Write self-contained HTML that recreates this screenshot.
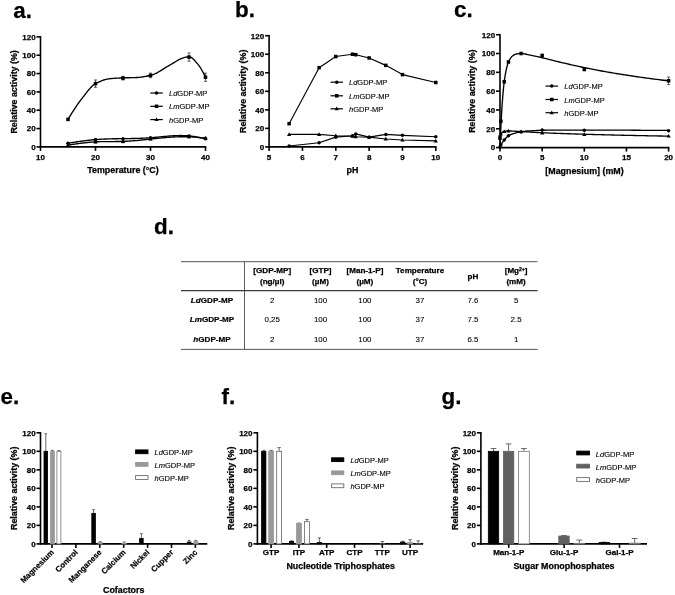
<!DOCTYPE html>
<html lang="en"><head><meta charset="utf-8"><title>GDP-MP characterization figure</title>
<style>html,body{margin:0;padding:0;background:#fff}svg{display:block;filter:blur(0.35px)}text{font-family:"Liberation Sans", Arial, Helvetica, sans-serif}</style>
</head><body>
<svg width="675" height="595" viewBox="0 0 675 595" font-family='"Liberation Sans", Arial, Helvetica, sans-serif' fill="#000">
<rect width="675" height="595" fill="#fff"/>
<text x="13.3" y="17.5" font-size="22.4" font-weight="bold" text-anchor="start"  stroke="#000" stroke-width="0.25">a.</text>
<text x="235" y="16.6" font-size="22.4" font-weight="bold" text-anchor="start"  stroke="#000" stroke-width="0.25">b.</text>
<text x="454" y="17" font-size="22.4" font-weight="bold" text-anchor="start"  stroke="#000" stroke-width="0.25">c.</text>
<text x="154" y="233.6" font-size="22.4" font-weight="bold" text-anchor="start"  stroke="#000" stroke-width="0.25">d.</text>
<text x="0.5" y="404.3" font-size="22.4" font-weight="bold" text-anchor="start"  stroke="#000" stroke-width="0.25">e.</text>
<text x="221.5" y="404.3" font-size="22.4" font-weight="bold" text-anchor="start"  stroke="#000" stroke-width="0.25">f.</text>
<text x="441.5" y="404.3" font-size="22.4" font-weight="bold" text-anchor="start"  stroke="#000" stroke-width="0.25">g.</text>
<line x1="40.5" y1="36.1" x2="40.5" y2="147.7" stroke="#000" stroke-width="1.6"/>
<line x1="36.5" y1="146.9" x2="40.5" y2="146.9" stroke="#000" stroke-width="1.6"/>
<text x="35.6" y="149.78" font-size="8.0" font-weight="bold" text-anchor="end"  stroke="#000" stroke-width="0.25">0</text>
<line x1="36.5" y1="128.57" x2="40.5" y2="128.57" stroke="#000" stroke-width="1.6"/>
<text x="35.6" y="131.45" font-size="8.0" font-weight="bold" text-anchor="end"  stroke="#000" stroke-width="0.25">20</text>
<line x1="36.5" y1="110.23" x2="40.5" y2="110.23" stroke="#000" stroke-width="1.6"/>
<text x="35.6" y="113.11" font-size="8.0" font-weight="bold" text-anchor="end"  stroke="#000" stroke-width="0.25">40</text>
<line x1="36.5" y1="91.9" x2="40.5" y2="91.9" stroke="#000" stroke-width="1.6"/>
<text x="35.6" y="94.78" font-size="8.0" font-weight="bold" text-anchor="end"  stroke="#000" stroke-width="0.25">60</text>
<line x1="36.5" y1="73.57" x2="40.5" y2="73.57" stroke="#000" stroke-width="1.6"/>
<text x="35.6" y="76.45" font-size="8.0" font-weight="bold" text-anchor="end"  stroke="#000" stroke-width="0.25">80</text>
<line x1="36.5" y1="55.23" x2="40.5" y2="55.23" stroke="#000" stroke-width="1.6"/>
<text x="35.6" y="58.11" font-size="8.0" font-weight="bold" text-anchor="end"  stroke="#000" stroke-width="0.25">100</text>
<line x1="36.5" y1="36.9" x2="40.5" y2="36.9" stroke="#000" stroke-width="1.6"/>
<text x="35.6" y="39.78" font-size="8.0" font-weight="bold" text-anchor="end"  stroke="#000" stroke-width="0.25">120</text>
<text transform="translate(16.5,91.9) rotate(-90)" font-size="8.9" font-weight="bold" text-anchor="middle" stroke="#000" stroke-width="0.25">Relative activity (%)</text>
<line x1="39.7" y1="146.9" x2="206.3" y2="146.9" stroke="#000" stroke-width="1.6"/>
<line x1="40.5" y1="146.9" x2="40.5" y2="150.9" stroke="#000" stroke-width="1.6"/>
<text x="40.5" y="159.6" font-size="8.0" font-weight="bold" text-anchor="middle"  stroke="#000" stroke-width="0.25">10</text>
<line x1="95.5" y1="146.9" x2="95.5" y2="150.9" stroke="#000" stroke-width="1.6"/>
<text x="95.5" y="159.6" font-size="8.0" font-weight="bold" text-anchor="middle"  stroke="#000" stroke-width="0.25">20</text>
<line x1="150.5" y1="146.9" x2="150.5" y2="150.9" stroke="#000" stroke-width="1.6"/>
<text x="150.5" y="159.6" font-size="8.0" font-weight="bold" text-anchor="middle"  stroke="#000" stroke-width="0.25">30</text>
<line x1="205.5" y1="146.9" x2="205.5" y2="150.9" stroke="#000" stroke-width="1.6"/>
<text x="205.5" y="159.6" font-size="8.0" font-weight="bold" text-anchor="middle"  stroke="#000" stroke-width="0.25">40</text>
<text x="123" y="173.2" font-size="8.9" font-weight="bold" text-anchor="middle"  stroke="#000" stroke-width="0.25">Temperature (°C)</text>
<path d="M68 119.4 L69.16 117.45 L70.31 115.54 L71.47 113.66 L72.62 111.82 L73.78 110.02 L74.93 108.26 L76.09 106.54 L77.24 104.87 L78.4 103.24 L79.55 101.65 L80.71 100.12 L81.87 98.63 L83.02 97.14 L84.18 95.63 L85.33 94.11 L86.49 92.61 L87.64 91.15 L88.8 89.74 L89.95 88.41 L91.11 87.17 L92.26 86.04 L93.42 85.05 L94.58 84.2 L95.73 83.53 L96.89 82.93 L98.04 82.35 L99.2 81.81 L100.35 81.3 L101.51 80.82 L102.66 80.39 L103.82 80 L104.97 79.65 L106.13 79.34 L107.29 79.09 L108.44 78.9 L109.6 78.75 L110.75 78.63 L111.91 78.52 L113.06 78.43 L114.22 78.34 L115.37 78.25 L116.53 78.18 L117.68 78.11 L118.84 78.05 L120 78 L121.15 77.95 L122.31 77.9 L123.46 77.86 L124.62 77.82 L125.77 77.79 L126.93 77.76 L128.08 77.74 L129.24 77.72 L130.39 77.69 L131.55 77.67 L132.71 77.64 L133.86 77.61 L135.02 77.58 L136.17 77.53 L137.33 77.48 L138.48 77.4 L139.64 77.3 L140.79 77.17 L141.95 77.02 L143.11 76.86 L144.26 76.67 L145.42 76.46 L146.57 76.24 L147.73 76.01 L148.88 75.76 L150.04 75.51 L151.19 75.22 L152.35 74.87 L153.5 74.44 L154.66 73.95 L155.82 73.41 L156.97 72.81 L158.13 72.17 L159.28 71.5 L160.44 70.8 L161.59 70.09 L162.75 69.36 L163.9 68.63 L165.06 67.9 L166.21 67.18 L167.37 66.48 L168.53 65.81 L169.68 65.17 L170.84 64.53 L171.99 63.86 L173.15 63.16 L174.3 62.44 L175.46 61.73 L176.61 61.03 L177.77 60.35 L178.92 59.71 L180.08 59.12 L181.24 58.6 L182.39 58.15 L183.55 57.79 L184.7 57.46 L185.86 57.16 L187.01 56.9 L188.17 56.74 L189.32 56.72 L190.48 57.04 L191.63 57.7 L192.79 58.64 L193.95 59.78 L195.1 61.05 L196.26 62.37 L197.41 63.66 L198.57 65.08 L199.72 66.7 L200.88 68.51 L202.03 70.49 L203.19 72.61 L204.34 74.87 L205.5 77.23" stroke="#000" stroke-width="1.35" fill="none" stroke-linejoin="round"/>
<rect x="66.25" y="117.65" width="3.5" height="3.5" fill="#000"/>
<path d="M95.5 79.98 L95.5 87.32 M93.9 79.98 L97.1 79.98 M93.9 87.32 L97.1 87.32" stroke="#000" stroke-width="0.6" fill="none"/>
<rect x="93.75" y="81.9" width="3.5" height="3.5" fill="#000"/>
<path d="M123 76.32 L123 79.98 M121.4 76.32 L124.6 76.32 M121.4 79.98 L124.6 79.98" stroke="#000" stroke-width="0.6" fill="none"/>
<rect x="121.25" y="76.4" width="3.5" height="3.5" fill="#000"/>
<path d="M150.5 73.11 L150.5 77.69 M148.9 73.11 L152.1 73.11 M148.9 77.69 L152.1 77.69" stroke="#000" stroke-width="0.6" fill="none"/>
<rect x="148.75" y="73.65" width="3.5" height="3.5" fill="#000"/>
<path d="M189 52.94 L189 61.19 M187.4 52.94 L190.6 52.94 M187.4 61.19 L190.6 61.19" stroke="#000" stroke-width="0.6" fill="none"/>
<rect x="187.25" y="55.32" width="3.5" height="3.5" fill="#000"/>
<path d="M205.5 73.11 L205.5 81.36 M203.9 73.11 L207.1 73.11 M203.9 81.36 L207.1 81.36" stroke="#000" stroke-width="0.6" fill="none"/>
<rect x="203.75" y="75.48" width="3.5" height="3.5" fill="#000"/>
<path d="M68 143.23 L69.16 143.05 L70.31 142.87 L71.47 142.68 L72.62 142.5 L73.78 142.32 L74.93 142.14 L76.09 141.97 L77.24 141.79 L78.4 141.62 L79.55 141.45 L80.71 141.29 L81.87 141.12 L83.02 140.96 L84.18 140.81 L85.33 140.66 L86.49 140.51 L87.64 140.37 L88.8 140.23 L89.95 140.1 L91.11 139.98 L92.26 139.86 L93.42 139.75 L94.58 139.65 L95.73 139.55 L96.89 139.46 L98.04 139.37 L99.2 139.3 L100.35 139.23 L101.51 139.16 L102.66 139.1 L103.82 139.05 L104.97 139 L106.13 138.96 L107.29 138.92 L108.44 138.88 L109.6 138.85 L110.75 138.82 L111.91 138.8 L113.06 138.78 L114.22 138.76 L115.37 138.74 L116.53 138.72 L117.68 138.71 L118.84 138.69 L120 138.68 L121.15 138.67 L122.31 138.66 L123.46 138.65 L124.62 138.63 L125.77 138.62 L126.93 138.61 L128.08 138.59 L129.24 138.57 L130.39 138.56 L131.55 138.53 L132.71 138.51 L133.86 138.49 L135.02 138.46 L136.17 138.43 L137.33 138.4 L138.48 138.36 L139.64 138.32 L140.79 138.28 L141.95 138.23 L143.11 138.18 L144.26 138.12 L145.42 138.06 L146.57 138 L147.73 137.93 L148.88 137.85 L150.04 137.77 L151.19 137.68 L152.35 137.59 L153.5 137.49 L154.66 137.39 L155.82 137.28 L156.97 137.17 L158.13 137.06 L159.28 136.95 L160.44 136.84 L161.59 136.73 L162.75 136.62 L163.9 136.51 L165.06 136.4 L166.21 136.3 L167.37 136.19 L168.53 136.1 L169.68 136.01 L170.84 135.92 L171.99 135.84 L173.15 135.77 L174.3 135.71 L175.46 135.65 L176.61 135.61 L177.77 135.57 L178.92 135.55 L180.08 135.54 L181.24 135.54 L182.39 135.55 L183.55 135.57 L184.7 135.61 L185.86 135.67 L187.01 135.74 L188.17 135.83 L189.32 135.93 L190.48 136.05 L191.63 136.19 L192.79 136.34 L193.95 136.51 L195.1 136.69 L196.26 136.88 L197.41 137.08 L198.57 137.29 L199.72 137.5 L200.88 137.72 L202.03 137.95 L203.19 138.18 L204.34 138.42 L205.5 138.65" stroke="#000" stroke-width="1.35" fill="none" stroke-linejoin="round"/>
<circle cx="68" cy="143.23" r="1.75" fill="#000"/>
<circle cx="95.5" cy="139.57" r="1.75" fill="#000"/>
<circle cx="123" cy="138.65" r="1.75" fill="#000"/>
<circle cx="150.5" cy="137.73" r="1.75" fill="#000"/>
<circle cx="189" cy="135.9" r="1.75" fill="#000"/>
<circle cx="205.5" cy="138.65" r="1.75" fill="#000"/>
<path d="M68 145.07 L69.16 144.9 L70.31 144.73 L71.47 144.56 L72.62 144.39 L73.78 144.22 L74.93 144.06 L76.09 143.89 L77.24 143.73 L78.4 143.58 L79.55 143.42 L80.71 143.27 L81.87 143.13 L83.02 142.99 L84.18 142.85 L85.33 142.72 L86.49 142.59 L87.64 142.48 L88.8 142.36 L89.95 142.26 L91.11 142.16 L92.26 142.07 L93.42 141.99 L94.58 141.91 L95.73 141.85 L96.89 141.79 L98.04 141.74 L99.2 141.7 L100.35 141.67 L101.51 141.64 L102.66 141.61 L103.82 141.6 L104.97 141.58 L106.13 141.57 L107.29 141.57 L108.44 141.56 L109.6 141.56 L110.75 141.56 L111.91 141.55 L113.06 141.55 L114.22 141.55 L115.37 141.54 L116.53 141.53 L117.68 141.52 L118.84 141.5 L120 141.48 L121.15 141.45 L122.31 141.42 L123.46 141.38 L124.62 141.34 L125.77 141.29 L126.93 141.23 L128.08 141.16 L129.24 141.09 L130.39 141.01 L131.55 140.93 L132.71 140.85 L133.86 140.76 L135.02 140.66 L136.17 140.56 L137.33 140.46 L138.48 140.35 L139.64 140.24 L140.79 140.13 L141.95 140.01 L143.11 139.9 L144.26 139.78 L145.42 139.65 L146.57 139.53 L147.73 139.41 L148.88 139.28 L150.04 139.16 L151.19 139.03 L152.35 138.91 L153.5 138.78 L154.66 138.66 L155.82 138.54 L156.97 138.41 L158.13 138.29 L159.28 138.17 L160.44 138.06 L161.59 137.95 L162.75 137.84 L163.9 137.73 L165.06 137.62 L166.21 137.52 L167.37 137.43 L168.53 137.34 L169.68 137.25 L170.84 137.17 L171.99 137.09 L173.15 137.02 L174.3 136.96 L175.46 136.9 L176.61 136.85 L177.77 136.81 L178.92 136.77 L180.08 136.74 L181.24 136.72 L182.39 136.71 L183.55 136.71 L184.7 136.71 L185.86 136.73 L187.01 136.75 L188.17 136.79 L189.32 136.83 L190.48 136.88 L191.63 136.95 L192.79 137.02 L193.95 137.1 L195.1 137.19 L196.26 137.28 L197.41 137.39 L198.57 137.49 L199.72 137.6 L200.88 137.71 L202.03 137.83 L203.19 137.95 L204.34 138.07 L205.5 138.19" stroke="#000" stroke-width="1.35" fill="none" stroke-linejoin="round"/>
<path d="M68 142.87 L70.1 146.57 L65.9 146.57 Z" fill="#000"/>
<path d="M95.5 140.48 L95.5 143.23 M93.9 140.48 L97.1 140.48 M93.9 143.23 L97.1 143.23" stroke="#000" stroke-width="0.6" fill="none"/>
<path d="M95.5 139.66 L97.6 143.36 L93.4 143.36 Z" fill="#000"/>
<path d="M123 140.03 L123 142.78 M121.4 140.03 L124.6 140.03 M121.4 142.78 L124.6 142.78" stroke="#000" stroke-width="0.6" fill="none"/>
<path d="M123 139.2 L125.1 142.9 L120.9 142.9 Z" fill="#000"/>
<path d="M150.5 138.19 L150.5 140.03 M148.9 138.19 L152.1 138.19 M148.9 140.03 L152.1 140.03" stroke="#000" stroke-width="0.6" fill="none"/>
<path d="M150.5 136.91 L152.6 140.61 L148.4 140.61 Z" fill="#000"/>
<path d="M189 135.9 L189 137.73 M187.4 135.9 L190.6 135.9 M187.4 137.73 L190.6 137.73" stroke="#000" stroke-width="0.6" fill="none"/>
<path d="M189 134.62 L191.1 138.32 L186.9 138.32 Z" fill="#000"/>
<path d="M205.5 137.28 L205.5 139.11 M203.9 137.28 L207.1 137.28 M203.9 139.11 L207.1 139.11" stroke="#000" stroke-width="0.6" fill="none"/>
<path d="M205.5 135.99 L207.6 139.69 L203.4 139.69 Z" fill="#000"/>
<line x1="150.3" y1="93" x2="162.8" y2="93" stroke="#000" stroke-width="1.2"/>
<circle cx="156.55" cy="93" r="1.75" fill="#000"/>
<text x="169" y="96.1" font-size="7.5" font-weight="normal" text-anchor="start" stroke="#000" stroke-width="0.12"><tspan font-style="italic">Ld</tspan>GDP-MP</text>
<line x1="150.3" y1="106.3" x2="162.8" y2="106.3" stroke="#000" stroke-width="1.2"/>
<rect x="154.8" y="104.55" width="3.5" height="3.5" fill="#000"/>
<text x="169" y="109.4" font-size="7.5" font-weight="normal" text-anchor="start" stroke="#000" stroke-width="0.12"><tspan font-style="italic">Lm</tspan>GDP-MP</text>
<line x1="150.3" y1="119.6" x2="162.8" y2="119.6" stroke="#000" stroke-width="1.2"/>
<path d="M156.55 117.4 L158.65 121.1 L154.45 121.1 Z" fill="#000"/>
<text x="169" y="122.7" font-size="7.5" font-weight="normal" text-anchor="start" stroke="#000" stroke-width="0.12"><tspan font-style="italic">h</tspan>GDP-MP</text>
<line x1="269.1" y1="34.9" x2="269.1" y2="147.7" stroke="#000" stroke-width="1.6"/>
<line x1="265.1" y1="146.9" x2="269.1" y2="146.9" stroke="#000" stroke-width="1.6"/>
<text x="264.2" y="149.78" font-size="8.0" font-weight="bold" text-anchor="end"  stroke="#000" stroke-width="0.25">0</text>
<line x1="265.1" y1="128.37" x2="269.1" y2="128.37" stroke="#000" stroke-width="1.6"/>
<text x="264.2" y="131.25" font-size="8.0" font-weight="bold" text-anchor="end"  stroke="#000" stroke-width="0.25">20</text>
<line x1="265.1" y1="109.83" x2="269.1" y2="109.83" stroke="#000" stroke-width="1.6"/>
<text x="264.2" y="112.71" font-size="8.0" font-weight="bold" text-anchor="end"  stroke="#000" stroke-width="0.25">40</text>
<line x1="265.1" y1="91.3" x2="269.1" y2="91.3" stroke="#000" stroke-width="1.6"/>
<text x="264.2" y="94.18" font-size="8.0" font-weight="bold" text-anchor="end"  stroke="#000" stroke-width="0.25">60</text>
<line x1="265.1" y1="72.77" x2="269.1" y2="72.77" stroke="#000" stroke-width="1.6"/>
<text x="264.2" y="75.65" font-size="8.0" font-weight="bold" text-anchor="end"  stroke="#000" stroke-width="0.25">80</text>
<line x1="265.1" y1="54.23" x2="269.1" y2="54.23" stroke="#000" stroke-width="1.6"/>
<text x="264.2" y="57.11" font-size="8.0" font-weight="bold" text-anchor="end"  stroke="#000" stroke-width="0.25">100</text>
<line x1="265.1" y1="35.7" x2="269.1" y2="35.7" stroke="#000" stroke-width="1.6"/>
<text x="264.2" y="38.58" font-size="8.0" font-weight="bold" text-anchor="end"  stroke="#000" stroke-width="0.25">120</text>
<text transform="translate(245.5,91.3) rotate(-90)" font-size="8.9" font-weight="bold" text-anchor="middle" stroke="#000" stroke-width="0.25">Relative activity (%)</text>
<line x1="268.3" y1="146.9" x2="436.6" y2="146.9" stroke="#000" stroke-width="1.6"/>
<line x1="269.1" y1="146.9" x2="269.1" y2="150.9" stroke="#000" stroke-width="1.6"/>
<text x="269.1" y="159.6" font-size="8.0" font-weight="bold" text-anchor="middle"  stroke="#000" stroke-width="0.25">5</text>
<line x1="302.44" y1="146.9" x2="302.44" y2="150.9" stroke="#000" stroke-width="1.6"/>
<text x="302.44" y="159.6" font-size="8.0" font-weight="bold" text-anchor="middle"  stroke="#000" stroke-width="0.25">6</text>
<line x1="335.78" y1="146.9" x2="335.78" y2="150.9" stroke="#000" stroke-width="1.6"/>
<text x="335.78" y="159.6" font-size="8.0" font-weight="bold" text-anchor="middle"  stroke="#000" stroke-width="0.25">7</text>
<line x1="369.12" y1="146.9" x2="369.12" y2="150.9" stroke="#000" stroke-width="1.6"/>
<text x="369.12" y="159.6" font-size="8.0" font-weight="bold" text-anchor="middle"  stroke="#000" stroke-width="0.25">8</text>
<line x1="402.46" y1="146.9" x2="402.46" y2="150.9" stroke="#000" stroke-width="1.6"/>
<text x="402.46" y="159.6" font-size="8.0" font-weight="bold" text-anchor="middle"  stroke="#000" stroke-width="0.25">9</text>
<line x1="435.8" y1="146.9" x2="435.8" y2="150.9" stroke="#000" stroke-width="1.6"/>
<text x="435.8" y="159.6" font-size="8.0" font-weight="bold" text-anchor="middle"  stroke="#000" stroke-width="0.25">10</text>
<text x="352.5" y="173.2" font-size="8.9" font-weight="bold" text-anchor="middle"  stroke="#000" stroke-width="0.25">pH</text>
<path d="M289.1 123.73 L319.11 67.67 L335.78 56.55 L352.45 54.23 L355.78 54.7 L369.12 57.94 L385.79 65.35 L402.46 74.62 L435.8 82.5" stroke="#000" stroke-width="1.15" fill="none" stroke-linejoin="round"/>
<rect x="287.35" y="121.98" width="3.5" height="3.5" fill="#000"/>
<rect x="317.36" y="65.92" width="3.5" height="3.5" fill="#000"/>
<rect x="334.03" y="54.8" width="3.5" height="3.5" fill="#000"/>
<rect x="350.7" y="52.48" width="3.5" height="3.5" fill="#000"/>
<rect x="354.03" y="52.95" width="3.5" height="3.5" fill="#000"/>
<rect x="367.37" y="56.19" width="3.5" height="3.5" fill="#000"/>
<rect x="384.04" y="63.6" width="3.5" height="3.5" fill="#000"/>
<rect x="400.71" y="72.87" width="3.5" height="3.5" fill="#000"/>
<rect x="434.05" y="80.75" width="3.5" height="3.5" fill="#000"/>
<path d="M289.1 145.97 L319.11 142.73 L335.78 137.17 L352.45 135.78 L355.78 133.93 L369.12 137.17 L385.79 134.39 L402.46 135.32 L435.8 136.71" stroke="#000" stroke-width="1.15" fill="none" stroke-linejoin="round"/>
<circle cx="289.1" cy="145.97" r="1.75" fill="#000"/>
<circle cx="319.11" cy="142.73" r="1.75" fill="#000"/>
<circle cx="335.78" cy="137.17" r="1.75" fill="#000"/>
<circle cx="352.45" cy="135.78" r="1.75" fill="#000"/>
<circle cx="355.78" cy="133.93" r="1.75" fill="#000"/>
<circle cx="369.12" cy="137.17" r="1.75" fill="#000"/>
<circle cx="385.79" cy="134.39" r="1.75" fill="#000"/>
<circle cx="402.46" cy="135.32" r="1.75" fill="#000"/>
<circle cx="435.8" cy="136.71" r="1.75" fill="#000"/>
<path d="M289.1 134.39 L319.11 134.39 L335.78 135.78 L352.45 136.24 L355.78 136.71 L369.12 137.17 L385.79 139.02 L402.46 139.95 L435.8 140.88" stroke="#000" stroke-width="1.15" fill="none" stroke-linejoin="round"/>
<path d="M289.1 132.19 L291.2 135.89 L287 135.89 Z" fill="#000"/>
<path d="M319.11 132.19 L321.21 135.89 L317.01 135.89 Z" fill="#000"/>
<path d="M335.78 133.58 L337.88 137.28 L333.68 137.28 Z" fill="#000"/>
<path d="M352.45 134.04 L354.55 137.74 L350.35 137.74 Z" fill="#000"/>
<path d="M355.78 134.51 L357.88 138.21 L353.68 138.21 Z" fill="#000"/>
<path d="M369.12 134.97 L371.22 138.67 L367.02 138.67 Z" fill="#000"/>
<path d="M385.79 136.82 L387.89 140.52 L383.69 140.52 Z" fill="#000"/>
<path d="M402.46 137.75 L404.56 141.45 L400.36 141.45 Z" fill="#000"/>
<path d="M435.8 138.68 L437.9 142.38 L433.7 142.38 Z" fill="#000"/>
<line x1="330.5" y1="82.2" x2="343" y2="82.2" stroke="#000" stroke-width="1.2"/>
<circle cx="336.75" cy="82.2" r="1.75" fill="#000"/>
<text x="349" y="85.3" font-size="7.5" font-weight="normal" text-anchor="start" stroke="#000" stroke-width="0.12"><tspan font-style="italic">Ld</tspan>GDP-MP</text>
<line x1="330.5" y1="95.8" x2="343" y2="95.8" stroke="#000" stroke-width="1.2"/>
<rect x="335" y="94.05" width="3.5" height="3.5" fill="#000"/>
<text x="349" y="98.9" font-size="7.5" font-weight="normal" text-anchor="start" stroke="#000" stroke-width="0.12"><tspan font-style="italic">Lm</tspan>GDP-MP</text>
<line x1="330.5" y1="108.8" x2="343" y2="108.8" stroke="#000" stroke-width="1.2"/>
<path d="M336.75 106.6 L338.85 110.3 L334.65 110.3 Z" fill="#000"/>
<text x="349" y="111.9" font-size="7.5" font-weight="normal" text-anchor="start" stroke="#000" stroke-width="0.12"><tspan font-style="italic">h</tspan>GDP-MP</text>
<line x1="500" y1="33.9" x2="500" y2="148.4" stroke="#000" stroke-width="1.6"/>
<line x1="496" y1="147.6" x2="500" y2="147.6" stroke="#000" stroke-width="1.6"/>
<text x="495.1" y="150.48" font-size="8.0" font-weight="bold" text-anchor="end"  stroke="#000" stroke-width="0.25">0</text>
<line x1="496" y1="128.78" x2="500" y2="128.78" stroke="#000" stroke-width="1.6"/>
<text x="495.1" y="131.66" font-size="8.0" font-weight="bold" text-anchor="end"  stroke="#000" stroke-width="0.25">20</text>
<line x1="496" y1="109.97" x2="500" y2="109.97" stroke="#000" stroke-width="1.6"/>
<text x="495.1" y="112.85" font-size="8.0" font-weight="bold" text-anchor="end"  stroke="#000" stroke-width="0.25">40</text>
<line x1="496" y1="91.15" x2="500" y2="91.15" stroke="#000" stroke-width="1.6"/>
<text x="495.1" y="94.03" font-size="8.0" font-weight="bold" text-anchor="end"  stroke="#000" stroke-width="0.25">60</text>
<line x1="496" y1="72.33" x2="500" y2="72.33" stroke="#000" stroke-width="1.6"/>
<text x="495.1" y="75.21" font-size="8.0" font-weight="bold" text-anchor="end"  stroke="#000" stroke-width="0.25">80</text>
<line x1="496" y1="53.52" x2="500" y2="53.52" stroke="#000" stroke-width="1.6"/>
<text x="495.1" y="56.4" font-size="8.0" font-weight="bold" text-anchor="end"  stroke="#000" stroke-width="0.25">100</text>
<line x1="496" y1="34.7" x2="500" y2="34.7" stroke="#000" stroke-width="1.6"/>
<text x="495.1" y="37.58" font-size="8.0" font-weight="bold" text-anchor="end"  stroke="#000" stroke-width="0.25">120</text>
<text transform="translate(475,91.15) rotate(-90)" font-size="8.9" font-weight="bold" text-anchor="middle" stroke="#000" stroke-width="0.25">Relative activity (%)</text>
<line x1="499.2" y1="147.6" x2="669.4" y2="147.6" stroke="#000" stroke-width="1.6"/>
<line x1="500" y1="147.6" x2="500" y2="151.6" stroke="#000" stroke-width="1.6"/>
<text x="500" y="160.3" font-size="8.0" font-weight="bold" text-anchor="middle"  stroke="#000" stroke-width="0.25">0</text>
<line x1="542.15" y1="147.6" x2="542.15" y2="151.6" stroke="#000" stroke-width="1.6"/>
<text x="542.15" y="160.3" font-size="8.0" font-weight="bold" text-anchor="middle"  stroke="#000" stroke-width="0.25">5</text>
<line x1="584.3" y1="147.6" x2="584.3" y2="151.6" stroke="#000" stroke-width="1.6"/>
<text x="584.3" y="160.3" font-size="8.0" font-weight="bold" text-anchor="middle"  stroke="#000" stroke-width="0.25">10</text>
<line x1="626.45" y1="147.6" x2="626.45" y2="151.6" stroke="#000" stroke-width="1.6"/>
<text x="626.45" y="160.3" font-size="8.0" font-weight="bold" text-anchor="middle"  stroke="#000" stroke-width="0.25">15</text>
<line x1="668.6" y1="147.6" x2="668.6" y2="151.6" stroke="#000" stroke-width="1.6"/>
<text x="668.6" y="160.3" font-size="8.0" font-weight="bold" text-anchor="middle"  stroke="#000" stroke-width="0.25">20</text>
<text x="584.5" y="174.2" font-size="8.9" font-weight="bold" text-anchor="middle"  stroke="#000" stroke-width="0.25">[Magnesium] (mM)</text>
<path d="M500 147.6 L500.43 136.86 L500.86 127.23 L501.29 118.79 L501.71 111.23 L502.14 104.77 L502.57 99.04 L503 93.73 L503.43 88.93 L503.86 84.73 L504.29 81.2 L504.72 78.18 L505.14 75.5 L505.57 73.12 L506 70.98 L506.43 69.04 L506.86 67.2 L507.29 65.49 L507.72 63.96 L508.14 62.68 L508.57 61.68 L509 60.8 L509.43 59.98 L509.86 59.23 L510.29 58.53 L510.72 57.9 L511.14 57.34 L511.57 56.84 L512 56.4 L512.43 56.03 L512.86 55.72 L513.29 55.43 L513.72 55.16 L514.15 54.91 L514.57 54.68 L515 54.47 L515.43 54.29 L515.86 54.13 L516.29 54.01 L516.72 53.92 L517.15 53.85 L517.57 53.79 L518 53.73 L518.43 53.68 L518.86 53.64 L519.29 53.6 L519.72 53.56 L520.15 53.54 L520.57 53.52 L521 53.52 L521.43 53.52 L521.86 53.54 L522.29 53.57 L522.72 53.61 L523.15 53.66 L523.58 53.72 L524 53.78 L524.43 53.86 L524.86 53.94 L525.29 54.02 L527.72 54.55 L530.15 55.05 L532.58 55.55 L535.01 56.08 L537.43 56.64 L539.86 57.21 L542.29 57.78 L544.72 58.36 L547.15 58.95 L549.58 59.56 L552.01 60.16 L554.44 60.78 L556.87 61.38 L559.3 61.98 L561.72 62.57 L564.15 63.14 L566.58 63.71 L569.01 64.27 L571.44 64.83 L573.87 65.39 L576.3 65.93 L578.73 66.46 L581.16 66.98 L583.59 67.48 L586.01 67.97 L588.44 68.45 L590.87 68.93 L593.3 69.4 L595.73 69.86 L598.16 70.32 L600.59 70.77 L603.02 71.22 L605.45 71.66 L607.88 72.09 L610.3 72.51 L612.73 72.93 L615.16 73.34 L617.59 73.75 L620.02 74.14 L622.45 74.53 L624.88 74.91 L627.31 75.29 L629.74 75.65 L632.17 76.02 L634.59 76.38 L637.02 76.73 L639.45 77.08 L641.88 77.42 L644.31 77.76 L646.74 78.09 L649.17 78.42 L651.6 78.74 L654.03 79.05 L656.46 79.36 L658.88 79.66 L661.31 79.96 L663.74 80.24 L666.17 80.53 L668.6 80.8" stroke="#000" stroke-width="1.35" fill="none" stroke-linejoin="round"/>
<rect x="498.25" y="135.5" width="3.5" height="3.5" fill="#000"/>
<rect x="499.09" y="119.51" width="3.5" height="3.5" fill="#000"/>
<rect x="502.46" y="79.99" width="3.5" height="3.5" fill="#000"/>
<rect x="506.68" y="60.23" width="3.5" height="3.5" fill="#000"/>
<rect x="519.33" y="51.77" width="3.5" height="3.5" fill="#000"/>
<rect x="540.4" y="53.65" width="3.5" height="3.5" fill="#000"/>
<rect x="582.55" y="67.76" width="3.5" height="3.5" fill="#000"/>
<path d="M668.6 77.04 L668.6 84.56 M667 77.04 L670.2 77.04 M667 84.56 L670.2 84.56" stroke="#000" stroke-width="0.6" fill="none"/>
<rect x="666.85" y="79.05" width="3.5" height="3.5" fill="#000"/>
<path d="M500 146.66 L500.43 145.82 L500.86 145.01 L501.29 144.24 L501.71 143.52 L502.14 142.84 L502.57 142.21 L503 141.61 L503.43 141.04 L503.86 140.5 L504.29 139.99 L504.72 139.49 L505.14 138.99 L505.57 138.49 L506 138.01 L506.43 137.55 L506.86 137.11 L507.29 136.71 L507.72 136.34 L508.14 136.02 L508.57 135.75 L509 135.51 L509.43 135.27 L509.86 135.05 L510.29 134.84 L510.72 134.64 L511.14 134.46 L511.57 134.28 L512 134.11 L512.43 133.95 L512.86 133.8 L513.29 133.66 L513.72 133.52 L514.15 133.39 L514.57 133.26 L515 133.13 L515.43 133.01 L515.86 132.9 L516.29 132.78 L516.72 132.67 L517.15 132.57 L517.57 132.47 L518 132.37 L518.43 132.28 L518.86 132.19 L519.29 132.1 L519.72 132.02 L520.15 131.94 L520.57 131.87 L521 131.8 L521.43 131.74 L521.86 131.68 L522.29 131.62 L522.72 131.56 L523.15 131.5 L523.58 131.44 L524 131.39 L524.43 131.33 L524.86 131.28 L525.29 131.23 L527.72 130.99 L530.15 130.81 L532.58 130.66 L535.01 130.53 L537.43 130.42 L539.86 130.34 L542.29 130.29 L544.72 130.25 L547.15 130.22 L549.58 130.19 L552.01 130.16 L554.44 130.14 L556.87 130.12 L559.3 130.11 L561.72 130.1 L564.15 130.1 L566.58 130.1 L569.01 130.1 L571.44 130.1 L573.87 130.1 L576.3 130.1 L578.73 130.1 L581.16 130.1 L583.59 130.1 L586.01 130.1 L588.44 130.1 L590.87 130.1 L593.3 130.11 L595.73 130.11 L598.16 130.11 L600.59 130.12 L603.02 130.12 L605.45 130.13 L607.88 130.13 L610.3 130.14 L612.73 130.15 L615.16 130.16 L617.59 130.17 L620.02 130.18 L622.45 130.19 L624.88 130.2 L627.31 130.21 L629.74 130.22 L632.17 130.23 L634.59 130.25 L637.02 130.26 L639.45 130.27 L641.88 130.29 L644.31 130.3 L646.74 130.32 L649.17 130.33 L651.6 130.35 L654.03 130.37 L656.46 130.38 L658.88 130.4 L661.31 130.42 L663.74 130.44 L666.17 130.46 L668.6 130.48" stroke="#000" stroke-width="1.3" fill="none" stroke-linejoin="round"/>
<circle cx="500" cy="146.66" r="1.75" fill="#000"/>
<circle cx="500.84" cy="144.78" r="1.75" fill="#000"/>
<circle cx="504.21" cy="140.07" r="1.75" fill="#000"/>
<circle cx="508.43" cy="135.84" r="1.75" fill="#000"/>
<circle cx="521.08" cy="132.08" r="1.75" fill="#000"/>
<circle cx="542.15" cy="130.01" r="1.75" fill="#000"/>
<circle cx="584.3" cy="130.19" r="1.75" fill="#000"/>
<circle cx="668.6" cy="130.66" r="1.75" fill="#000"/>
<path d="M500 138.19 L500.43 136.32 L500.86 134.82 L501.29 133.84 L501.71 133.04 L502.14 132.43 L502.57 132.05 L503 131.8 L503.43 131.59 L503.86 131.41 L504.29 131.28 L504.72 131.18 L505.14 131.13 L505.57 131.09 L506 131.05 L506.43 131.02 L506.86 130.99 L507.29 130.97 L507.72 130.96 L508.14 130.95 L508.57 130.95 L509 130.95 L509.43 130.96 L509.86 130.96 L510.29 130.97 L510.72 130.99 L511.14 131 L511.57 131.02 L512 131.04 L512.43 131.06 L512.86 131.08 L513.29 131.1 L513.72 131.13 L514.15 131.15 L514.57 131.18 L515 131.21 L515.43 131.24 L515.86 131.27 L516.29 131.3 L516.72 131.33 L517.15 131.36 L517.57 131.39 L518 131.42 L518.43 131.44 L518.86 131.47 L519.29 131.5 L519.72 131.53 L520.15 131.55 L520.57 131.58 L521 131.6 L521.43 131.62 L521.86 131.65 L522.29 131.67 L522.72 131.69 L523.15 131.72 L523.58 131.74 L524 131.76 L524.43 131.79 L524.86 131.81 L525.29 131.84 L527.72 131.97 L530.15 132.11 L532.58 132.25 L535.01 132.38 L537.43 132.51 L539.86 132.63 L542.29 132.74 L544.72 132.85 L547.15 132.95 L549.58 133.05 L552.01 133.15 L554.44 133.24 L556.87 133.34 L559.3 133.43 L561.72 133.52 L564.15 133.6 L566.58 133.69 L569.01 133.77 L571.44 133.85 L573.87 133.93 L576.3 134 L578.73 134.08 L581.16 134.15 L583.59 134.22 L586.01 134.29 L588.44 134.36 L590.87 134.42 L593.3 134.49 L595.73 134.56 L598.16 134.62 L600.59 134.69 L603.02 134.75 L605.45 134.82 L607.88 134.88 L610.3 134.94 L612.73 135 L615.16 135.07 L617.59 135.13 L620.02 135.19 L622.45 135.24 L624.88 135.3 L627.31 135.36 L629.74 135.41 L632.17 135.47 L634.59 135.52 L637.02 135.57 L639.45 135.62 L641.88 135.67 L644.31 135.72 L646.74 135.77 L649.17 135.81 L651.6 135.86 L654.03 135.9 L656.46 135.94 L658.88 135.98 L661.31 136.02 L663.74 136.05 L666.17 136.09 L668.6 136.12" stroke="#000" stroke-width="1.3" fill="none" stroke-linejoin="round"/>
<path d="M500 135.99 L502.1 139.69 L497.9 139.69 Z" fill="#000"/>
<path d="M500.84 131.76 L502.94 135.46 L498.74 135.46 Z" fill="#000"/>
<path d="M504.21 129.41 L506.31 133.11 L502.11 133.11 Z" fill="#000"/>
<path d="M508.43 128.75 L510.53 132.45 L506.33 132.45 Z" fill="#000"/>
<path d="M521.08 129.41 L523.18 133.11 L518.98 133.11 Z" fill="#000"/>
<path d="M542.15 130.82 L544.25 134.52 L540.05 134.52 Z" fill="#000"/>
<path d="M584.3 132.23 L586.4 135.93 L582.2 135.93 Z" fill="#000"/>
<path d="M668.6 133.92 L670.7 137.62 L666.5 137.62 Z" fill="#000"/>
<line x1="545.5" y1="86.1" x2="558" y2="86.1" stroke="#000" stroke-width="1.2"/>
<circle cx="551.75" cy="86.1" r="1.75" fill="#000"/>
<text x="564.3" y="89.2" font-size="7.5" font-weight="normal" text-anchor="start" stroke="#000" stroke-width="0.12"><tspan font-style="italic">Ld</tspan>GDP-MP</text>
<line x1="545.5" y1="99.5" x2="558" y2="99.5" stroke="#000" stroke-width="1.2"/>
<rect x="550" y="97.75" width="3.5" height="3.5" fill="#000"/>
<text x="564.3" y="102.6" font-size="7.5" font-weight="normal" text-anchor="start" stroke="#000" stroke-width="0.12"><tspan font-style="italic">Lm</tspan>GDP-MP</text>
<line x1="545.5" y1="112.7" x2="558" y2="112.7" stroke="#000" stroke-width="1.2"/>
<path d="M551.75 110.5 L553.85 114.2 L549.65 114.2 Z" fill="#000"/>
<text x="564.3" y="115.8" font-size="7.5" font-weight="normal" text-anchor="start" stroke="#000" stroke-width="0.12"><tspan font-style="italic">h</tspan>GDP-MP</text>
<line x1="181" y1="261.7" x2="537.6" y2="261.7" stroke="#555" stroke-width="1.0"/>
<line x1="181" y1="290.6" x2="537.6" y2="290.6" stroke="#3a3a3a" stroke-width="1.1"/>
<line x1="181" y1="349.4" x2="537.6" y2="349.4" stroke="#555" stroke-width="1.0"/>
<line x1="244.5" y1="261.7" x2="244.5" y2="349.4" stroke="#333" stroke-width="0.8"/>
<text x="272.2" y="273.3" font-size="8.1" font-weight="bold" text-anchor="middle"  stroke="#000" stroke-width="0.25">[GDP-MP]</text>
<text x="272.2" y="283.9" font-size="8.1" font-weight="bold" text-anchor="middle"  stroke="#000" stroke-width="0.25">(ng/µl)</text>
<text x="320.5" y="273.3" font-size="8.1" font-weight="bold" text-anchor="middle"  stroke="#000" stroke-width="0.25">[GTP]</text>
<text x="320.5" y="283.9" font-size="8.1" font-weight="bold" text-anchor="middle"  stroke="#000" stroke-width="0.25">(µM)</text>
<text x="364.9" y="273.3" font-size="8.1" font-weight="bold" text-anchor="middle"  stroke="#000" stroke-width="0.25">[Man-1-P]</text>
<text x="364.9" y="283.9" font-size="8.1" font-weight="bold" text-anchor="middle"  stroke="#000" stroke-width="0.25">(µM)</text>
<text x="420" y="273.3" font-size="8.1" font-weight="bold" text-anchor="middle"  stroke="#000" stroke-width="0.25">Temperature</text>
<text x="420" y="283.9" font-size="8.1" font-weight="bold" text-anchor="middle"  stroke="#000" stroke-width="0.25">(°C)</text>
<text x="472.9" y="279.4" font-size="8.1" font-weight="bold" text-anchor="middle"  stroke="#000" stroke-width="0.25">pH</text>
<text x="516.1" y="273.3" font-size="8.1" font-weight="bold" text-anchor="middle"  stroke="#000" stroke-width="0.25">[Mg<tspan font-size="5" dy="-2.6">2+</tspan><tspan dy="2.6">]</tspan></text>
<text x="516.1" y="283.9" font-size="8.1" font-weight="bold" text-anchor="middle"  stroke="#000" stroke-width="0.25">(mM)</text>
<text x="212" y="302.6" font-size="8.1" font-weight="bold" text-anchor="middle" stroke="#000" stroke-width="0.2"><tspan font-style="italic">Ld</tspan>GDP-MP</text>
<text x="272.2" y="302.8" font-size="7.9" font-weight="normal" text-anchor="middle" fill="#000" stroke="#000" stroke-width="0.1">2</text>
<text x="320.5" y="302.8" font-size="7.9" font-weight="normal" text-anchor="middle" fill="#000" stroke="#000" stroke-width="0.1">100</text>
<text x="364.9" y="302.8" font-size="7.9" font-weight="normal" text-anchor="middle" fill="#000" stroke="#000" stroke-width="0.1">100</text>
<text x="420" y="302.8" font-size="7.9" font-weight="normal" text-anchor="middle" fill="#000" stroke="#000" stroke-width="0.1">37</text>
<text x="472.9" y="302.8" font-size="7.9" font-weight="normal" text-anchor="middle" fill="#000" stroke="#000" stroke-width="0.1">7.6</text>
<text x="516.1" y="302.8" font-size="7.9" font-weight="normal" text-anchor="middle" fill="#000" stroke="#000" stroke-width="0.1">5</text>
<text x="212" y="322.1" font-size="8.1" font-weight="bold" text-anchor="middle" stroke="#000" stroke-width="0.2"><tspan font-style="italic">Lm</tspan>GDP-MP</text>
<text x="272.2" y="322.3" font-size="7.9" font-weight="normal" text-anchor="middle" fill="#000" stroke="#000" stroke-width="0.1">0,25</text>
<text x="320.5" y="322.3" font-size="7.9" font-weight="normal" text-anchor="middle" fill="#000" stroke="#000" stroke-width="0.1">100</text>
<text x="364.9" y="322.3" font-size="7.9" font-weight="normal" text-anchor="middle" fill="#000" stroke="#000" stroke-width="0.1">100</text>
<text x="420" y="322.3" font-size="7.9" font-weight="normal" text-anchor="middle" fill="#000" stroke="#000" stroke-width="0.1">37</text>
<text x="472.9" y="322.3" font-size="7.9" font-weight="normal" text-anchor="middle" fill="#000" stroke="#000" stroke-width="0.1">7.5</text>
<text x="516.1" y="322.3" font-size="7.9" font-weight="normal" text-anchor="middle" fill="#000" stroke="#000" stroke-width="0.1">2.5</text>
<text x="212" y="341.7" font-size="8.1" font-weight="bold" text-anchor="middle" stroke="#000" stroke-width="0.2"><tspan font-style="italic">h</tspan>GDP-MP</text>
<text x="272.2" y="341.9" font-size="7.9" font-weight="normal" text-anchor="middle" fill="#000" stroke="#000" stroke-width="0.1">2</text>
<text x="320.5" y="341.9" font-size="7.9" font-weight="normal" text-anchor="middle" fill="#000" stroke="#000" stroke-width="0.1">100</text>
<text x="364.9" y="341.9" font-size="7.9" font-weight="normal" text-anchor="middle" fill="#000" stroke="#000" stroke-width="0.1">100</text>
<text x="420" y="341.9" font-size="7.9" font-weight="normal" text-anchor="middle" fill="#000" stroke="#000" stroke-width="0.1">37</text>
<text x="472.9" y="341.9" font-size="7.9" font-weight="normal" text-anchor="middle" fill="#000" stroke="#000" stroke-width="0.1">6.5</text>
<text x="516.1" y="341.9" font-size="7.9" font-weight="normal" text-anchor="middle" fill="#000" stroke="#000" stroke-width="0.1">1</text>
<line x1="40.5" y1="432" x2="40.5" y2="544.7" stroke="#000" stroke-width="1.6"/>
<line x1="36.5" y1="543.9" x2="40.5" y2="543.9" stroke="#000" stroke-width="1.6"/>
<text x="35.6" y="546.78" font-size="8.0" font-weight="bold" text-anchor="end"  stroke="#000" stroke-width="0.25">0</text>
<line x1="36.5" y1="525.38" x2="40.5" y2="525.38" stroke="#000" stroke-width="1.6"/>
<text x="35.6" y="528.26" font-size="8.0" font-weight="bold" text-anchor="end"  stroke="#000" stroke-width="0.25">20</text>
<line x1="36.5" y1="506.87" x2="40.5" y2="506.87" stroke="#000" stroke-width="1.6"/>
<text x="35.6" y="509.75" font-size="8.0" font-weight="bold" text-anchor="end"  stroke="#000" stroke-width="0.25">40</text>
<line x1="36.5" y1="488.35" x2="40.5" y2="488.35" stroke="#000" stroke-width="1.6"/>
<text x="35.6" y="491.23" font-size="8.0" font-weight="bold" text-anchor="end"  stroke="#000" stroke-width="0.25">60</text>
<line x1="36.5" y1="469.83" x2="40.5" y2="469.83" stroke="#000" stroke-width="1.6"/>
<text x="35.6" y="472.71" font-size="8.0" font-weight="bold" text-anchor="end"  stroke="#000" stroke-width="0.25">80</text>
<line x1="36.5" y1="451.32" x2="40.5" y2="451.32" stroke="#000" stroke-width="1.6"/>
<text x="35.6" y="454.2" font-size="8.0" font-weight="bold" text-anchor="end"  stroke="#000" stroke-width="0.25">100</text>
<line x1="36.5" y1="432.8" x2="40.5" y2="432.8" stroke="#000" stroke-width="1.6"/>
<text x="35.6" y="435.68" font-size="8.0" font-weight="bold" text-anchor="end"  stroke="#000" stroke-width="0.25">120</text>
<text transform="translate(16.5,488.35) rotate(-90)" font-size="8.9" font-weight="bold" text-anchor="middle" stroke="#000" stroke-width="0.25">Relative activity (%)</text>
<line x1="39.7" y1="543.9" x2="207.3" y2="543.9" stroke="#000" stroke-width="1.6"/>
<line x1="52" y1="543.9" x2="52" y2="547.9" stroke="#000" stroke-width="1.6"/>
<path d="M45.8 451.32 L45.8 433.73 M44.48 433.73 L47.12 433.73" stroke="#444" stroke-width="0.8" fill="none"/>
<rect x="44" y="451.32" width="3.6" height="92.58" fill="#000" stroke="#000" stroke-width="0.8"/>
<path d="M52.45 451.32 L52.45 450.39 M51.04 450.39 L53.86 450.39" stroke="#444" stroke-width="0.8" fill="none"/>
<rect x="50.5" y="451.32" width="3.9" height="92.58" fill="#999" stroke="#999" stroke-width="0.8"/>
<path d="M58.9 451.32 L58.9 450.58 M57.46 450.58 L60.34 450.58" stroke="#444" stroke-width="0.8" fill="none"/>
<rect x="56.9" y="451.32" width="4" height="92.58" fill="#fff" stroke="#777" stroke-width="0.8"/>
<text transform="translate(54.4,552.9) rotate(-45)" font-size="7.9" font-weight="bold" text-anchor="end" stroke="#000" stroke-width="0.2">Magnesium</text>
<line x1="75.9" y1="543.9" x2="75.9" y2="547.9" stroke="#000" stroke-width="1.6"/>
<text transform="translate(78.3,552.9) rotate(-45)" font-size="7.9" font-weight="bold" text-anchor="end" stroke="#000" stroke-width="0.2">Control</text>
<line x1="99.8" y1="543.9" x2="99.8" y2="547.9" stroke="#000" stroke-width="1.6"/>
<path d="M93.6 513.35 L93.6 509.64 M92.28 509.64 L94.92 509.64" stroke="#444" stroke-width="0.8" fill="none"/>
<rect x="91.8" y="513.35" width="3.6" height="30.55" fill="#000" stroke="#000" stroke-width="0.8"/>
<path d="M100.25 542.51 L100.25 541.77 M98.84 541.77 L101.66 541.77" stroke="#444" stroke-width="0.8" fill="none"/>
<rect x="98.3" y="542.51" width="3.9" height="1.39" fill="#999" stroke="#999" stroke-width="0.8"/>
<text transform="translate(102.2,552.9) rotate(-45)" font-size="7.9" font-weight="bold" text-anchor="end" stroke="#000" stroke-width="0.2">Manganese</text>
<line x1="123.7" y1="543.9" x2="123.7" y2="547.9" stroke="#000" stroke-width="1.6"/>
<path d="M124.15 543.44 L124.15 542.05 M122.74 542.05 L125.56 542.05" stroke="#444" stroke-width="0.8" fill="none"/>
<rect x="122.2" y="543.44" width="3.9" height="0.46" fill="#999" stroke="#999" stroke-width="0.8"/>
<text transform="translate(126.1,552.9) rotate(-45)" font-size="7.9" font-weight="bold" text-anchor="end" stroke="#000" stroke-width="0.2">Calcium</text>
<line x1="147.6" y1="543.9" x2="147.6" y2="547.9" stroke="#000" stroke-width="1.6"/>
<path d="M141.4 538.35 L141.4 533.72 M140.08 533.72 L142.72 533.72" stroke="#444" stroke-width="0.8" fill="none"/>
<rect x="139.6" y="538.35" width="3.6" height="5.55" fill="#000" stroke="#000" stroke-width="0.8"/>
<text transform="translate(150,552.9) rotate(-45)" font-size="7.9" font-weight="bold" text-anchor="end" stroke="#000" stroke-width="0.2">Nickel</text>
<line x1="171.5" y1="543.9" x2="171.5" y2="547.9" stroke="#000" stroke-width="1.6"/>
<text transform="translate(173.9,552.9) rotate(-45)" font-size="7.9" font-weight="bold" text-anchor="end" stroke="#000" stroke-width="0.2">Cupper</text>
<line x1="195.4" y1="543.9" x2="195.4" y2="547.9" stroke="#000" stroke-width="1.6"/>
<path d="M189.2 542.05 L189.2 540.38 M187.88 540.38 L190.52 540.38" stroke="#444" stroke-width="0.8" fill="none"/>
<rect x="187.4" y="542.05" width="3.6" height="1.85" fill="#000" stroke="#000" stroke-width="0.8"/>
<path d="M195.85 541.12 L195.85 540.38 M194.44 540.38 L197.26 540.38" stroke="#444" stroke-width="0.8" fill="none"/>
<rect x="193.9" y="541.12" width="3.9" height="2.78" fill="#999" stroke="#999" stroke-width="0.8"/>
<text transform="translate(197.8,552.9) rotate(-45)" font-size="7.9" font-weight="bold" text-anchor="end" stroke="#000" stroke-width="0.2">Zinc</text>
<text x="123.7" y="592.6" font-size="8.9" font-weight="bold" text-anchor="middle"  stroke="#000" stroke-width="0.25">Cofactors</text>
<rect x="135.6" y="449.9" width="12.4" height="3.8" fill="#000" stroke="#000" stroke-width="0.9"/>
<text x="154.5" y="455.3" font-size="7.5" font-weight="normal" text-anchor="start" stroke="#000" stroke-width="0.12"><tspan font-style="italic">Ld</tspan>GDP-MP</text>
<rect x="135.6" y="462.5" width="12.4" height="3.8" fill="#999" stroke="#999" stroke-width="0.9"/>
<text x="154.5" y="467.9" font-size="7.5" font-weight="normal" text-anchor="start" stroke="#000" stroke-width="0.12"><tspan font-style="italic">Lm</tspan>GDP-MP</text>
<rect x="135.6" y="475.6" width="12.4" height="3.8" fill="#fff" stroke="#6a6a6a" stroke-width="0.9"/>
<text x="154.5" y="481" font-size="7.5" font-weight="normal" text-anchor="start" stroke="#000" stroke-width="0.12"><tspan font-style="italic">h</tspan>GDP-MP</text>
<line x1="257.4" y1="432" x2="257.4" y2="544.7" stroke="#000" stroke-width="1.6"/>
<line x1="253.4" y1="543.9" x2="257.4" y2="543.9" stroke="#000" stroke-width="1.6"/>
<text x="252.5" y="546.78" font-size="8.0" font-weight="bold" text-anchor="end"  stroke="#000" stroke-width="0.25">0</text>
<line x1="253.4" y1="525.38" x2="257.4" y2="525.38" stroke="#000" stroke-width="1.6"/>
<text x="252.5" y="528.26" font-size="8.0" font-weight="bold" text-anchor="end"  stroke="#000" stroke-width="0.25">20</text>
<line x1="253.4" y1="506.87" x2="257.4" y2="506.87" stroke="#000" stroke-width="1.6"/>
<text x="252.5" y="509.75" font-size="8.0" font-weight="bold" text-anchor="end"  stroke="#000" stroke-width="0.25">40</text>
<line x1="253.4" y1="488.35" x2="257.4" y2="488.35" stroke="#000" stroke-width="1.6"/>
<text x="252.5" y="491.23" font-size="8.0" font-weight="bold" text-anchor="end"  stroke="#000" stroke-width="0.25">60</text>
<line x1="253.4" y1="469.83" x2="257.4" y2="469.83" stroke="#000" stroke-width="1.6"/>
<text x="252.5" y="472.71" font-size="8.0" font-weight="bold" text-anchor="end"  stroke="#000" stroke-width="0.25">80</text>
<line x1="253.4" y1="451.32" x2="257.4" y2="451.32" stroke="#000" stroke-width="1.6"/>
<text x="252.5" y="454.2" font-size="8.0" font-weight="bold" text-anchor="end"  stroke="#000" stroke-width="0.25">100</text>
<line x1="253.4" y1="432.8" x2="257.4" y2="432.8" stroke="#000" stroke-width="1.6"/>
<text x="252.5" y="435.68" font-size="8.0" font-weight="bold" text-anchor="end"  stroke="#000" stroke-width="0.25">120</text>
<text transform="translate(233.8,488.35) rotate(-90)" font-size="8.9" font-weight="bold" text-anchor="middle" stroke="#000" stroke-width="0.25">Relative activity (%)</text>
<line x1="256.6" y1="543.9" x2="423.2" y2="543.9" stroke="#000" stroke-width="1.6"/>
<line x1="271.1" y1="543.9" x2="271.1" y2="547.9" stroke="#000" stroke-width="1.6"/>
<path d="M263.75 451.32 L263.75 450.39 M262.22 450.39 L265.28 450.39" stroke="#444" stroke-width="0.8" fill="none"/>
<rect x="261.6" y="451.32" width="4.3" height="92.58" fill="#000" stroke="#000" stroke-width="0.8"/>
<path d="M271.15 451.32 L271.15 450.39 M269.44 450.39 L272.86 450.39" stroke="#444" stroke-width="0.8" fill="none"/>
<rect x="268.7" y="451.32" width="4.9" height="92.58" fill="#999" stroke="#999" stroke-width="0.8"/>
<path d="M279.15 451.32 L279.15 447.61 M277.44 447.61 L280.86 447.61" stroke="#444" stroke-width="0.8" fill="none"/>
<rect x="276.7" y="451.32" width="4.9" height="92.58" fill="#fff" stroke="#666" stroke-width="0.8"/>
<text x="271.1" y="555.4" font-size="8.0" font-weight="bold" text-anchor="middle"  stroke="#000" stroke-width="0.25">GTP</text>
<line x1="298.9" y1="543.9" x2="298.9" y2="547.9" stroke="#000" stroke-width="1.6"/>
<path d="M291.55 541.59 L291.55 540.84 M290.02 540.84 L293.08 540.84" stroke="#444" stroke-width="0.8" fill="none"/>
<rect x="289.4" y="541.59" width="4.3" height="2.31" fill="#000" stroke="#000" stroke-width="0.8"/>
<path d="M298.95 523.53 L298.95 523.07 M297.24 523.07 L300.66 523.07" stroke="#444" stroke-width="0.8" fill="none"/>
<rect x="296.5" y="523.53" width="4.9" height="20.37" fill="#999" stroke="#999" stroke-width="0.8"/>
<path d="M306.95 521.68 L306.95 519.37 M305.24 519.37 L308.66 519.37" stroke="#444" stroke-width="0.8" fill="none"/>
<rect x="304.5" y="521.68" width="4.9" height="22.22" fill="#fff" stroke="#666" stroke-width="0.8"/>
<text x="298.9" y="555.4" font-size="8.0" font-weight="bold" text-anchor="middle"  stroke="#000" stroke-width="0.25">ITP</text>
<line x1="326.7" y1="543.9" x2="326.7" y2="547.9" stroke="#000" stroke-width="1.6"/>
<path d="M319.35 542.51 L319.35 537.88 M317.82 537.88 L320.88 537.88" stroke="#444" stroke-width="0.8" fill="none"/>
<rect x="317.2" y="542.51" width="4.3" height="1.39" fill="#000" stroke="#000" stroke-width="0.8"/>
<text x="326.7" y="555.4" font-size="8.0" font-weight="bold" text-anchor="middle"  stroke="#000" stroke-width="0.25">ATP</text>
<line x1="354.5" y1="543.9" x2="354.5" y2="547.9" stroke="#000" stroke-width="1.6"/>
<text x="354.5" y="555.4" font-size="8.0" font-weight="bold" text-anchor="middle"  stroke="#000" stroke-width="0.25">CTP</text>
<line x1="382.3" y1="543.9" x2="382.3" y2="547.9" stroke="#000" stroke-width="1.6"/>
<path d="M382.35 543.44 L382.35 541.59 M380.64 541.59 L384.06 541.59" stroke="#444" stroke-width="0.8" fill="none"/>
<rect x="379.9" y="543.44" width="4.9" height="0.46" fill="#999" stroke="#444" stroke-width="0.8"/>
<text x="382.3" y="555.4" font-size="8.0" font-weight="bold" text-anchor="middle"  stroke="#000" stroke-width="0.25">TTP</text>
<line x1="410.1" y1="543.9" x2="410.1" y2="547.9" stroke="#000" stroke-width="1.6"/>
<path d="M402.75 542.05 L402.75 541.31 M401.22 541.31 L404.28 541.31" stroke="#444" stroke-width="0.8" fill="none"/>
<rect x="400.6" y="542.05" width="4.3" height="1.85" fill="#000" stroke="#000" stroke-width="0.8"/>
<path d="M410.15 542.51 L410.15 539.73 M408.44 539.73 L411.86 539.73" stroke="#444" stroke-width="0.8" fill="none"/>
<rect x="407.7" y="542.51" width="4.9" height="1.39" fill="#999" stroke="#999" stroke-width="0.8"/>
<path d="M418.15 543.62 L418.15 540.84 M416.44 540.84 L419.86 540.84" stroke="#444" stroke-width="0.8" fill="none"/>
<rect x="415.7" y="543.62" width="4.9" height="0.28" fill="#fff" stroke="#444" stroke-width="0.8"/>
<text x="410.1" y="555.4" font-size="8.0" font-weight="bold" text-anchor="middle"  stroke="#000" stroke-width="0.25">UTP</text>
<text x="340.7" y="569.4" font-size="8.9" font-weight="bold" text-anchor="middle"  stroke="#000" stroke-width="0.25">Nucleotide Triphosphates</text>
<rect x="331.6" y="457.8" width="12.2" height="3.8" fill="#000" stroke="#000" stroke-width="0.9"/>
<text x="350.4" y="463.2" font-size="7.5" font-weight="normal" text-anchor="start" stroke="#000" stroke-width="0.12"><tspan font-style="italic">Ld</tspan>GDP-MP</text>
<rect x="331.6" y="470.9" width="12.2" height="3.8" fill="#999" stroke="#999" stroke-width="0.9"/>
<text x="350.4" y="476.3" font-size="7.5" font-weight="normal" text-anchor="start" stroke="#000" stroke-width="0.12"><tspan font-style="italic">Lm</tspan>GDP-MP</text>
<rect x="331.6" y="483.9" width="12.2" height="3.8" fill="#fff" stroke="#6a6a6a" stroke-width="0.9"/>
<text x="350.4" y="489.3" font-size="7.5" font-weight="normal" text-anchor="start" stroke="#000" stroke-width="0.12"><tspan font-style="italic">h</tspan>GDP-MP</text>
<line x1="480.9" y1="432" x2="480.9" y2="544.7" stroke="#000" stroke-width="1.6"/>
<line x1="476.9" y1="543.9" x2="480.9" y2="543.9" stroke="#000" stroke-width="1.6"/>
<text x="476" y="546.78" font-size="8.0" font-weight="bold" text-anchor="end"  stroke="#000" stroke-width="0.25">0</text>
<line x1="476.9" y1="525.38" x2="480.9" y2="525.38" stroke="#000" stroke-width="1.6"/>
<text x="476" y="528.26" font-size="8.0" font-weight="bold" text-anchor="end"  stroke="#000" stroke-width="0.25">20</text>
<line x1="476.9" y1="506.87" x2="480.9" y2="506.87" stroke="#000" stroke-width="1.6"/>
<text x="476" y="509.75" font-size="8.0" font-weight="bold" text-anchor="end"  stroke="#000" stroke-width="0.25">40</text>
<line x1="476.9" y1="488.35" x2="480.9" y2="488.35" stroke="#000" stroke-width="1.6"/>
<text x="476" y="491.23" font-size="8.0" font-weight="bold" text-anchor="end"  stroke="#000" stroke-width="0.25">60</text>
<line x1="476.9" y1="469.83" x2="480.9" y2="469.83" stroke="#000" stroke-width="1.6"/>
<text x="476" y="472.71" font-size="8.0" font-weight="bold" text-anchor="end"  stroke="#000" stroke-width="0.25">80</text>
<line x1="476.9" y1="451.32" x2="480.9" y2="451.32" stroke="#000" stroke-width="1.6"/>
<text x="476" y="454.2" font-size="8.0" font-weight="bold" text-anchor="end"  stroke="#000" stroke-width="0.25">100</text>
<line x1="476.9" y1="432.8" x2="480.9" y2="432.8" stroke="#000" stroke-width="1.6"/>
<text x="476" y="435.68" font-size="8.0" font-weight="bold" text-anchor="end"  stroke="#000" stroke-width="0.25">120</text>
<text transform="translate(457.5,488.35) rotate(-90)" font-size="8.9" font-weight="bold" text-anchor="middle" stroke="#000" stroke-width="0.25">Relative activity (%)</text>
<line x1="480.1" y1="543.9" x2="647" y2="543.9" stroke="#000" stroke-width="1.6"/>
<line x1="508.7" y1="543.9" x2="508.7" y2="547.9" stroke="#000" stroke-width="1.6"/>
<path d="M493.5 451.32 L493.5 448.54 M490.7 448.54 L496.3 448.54" stroke="#444" stroke-width="0.8" fill="none"/>
<rect x="488.3" y="451.32" width="10.4" height="92.58" fill="#000" stroke="#000" stroke-width="0.8"/>
<path d="M508.6 451.32 L508.6 443.91 M505.8 443.91 L511.4 443.91" stroke="#444" stroke-width="0.8" fill="none"/>
<rect x="503.4" y="451.32" width="10.4" height="92.58" fill="#606060" stroke="#606060" stroke-width="0.8"/>
<path d="M523.9 451.32 L523.9 448.54 M521 448.54 L526.8 448.54" stroke="#444" stroke-width="0.8" fill="none"/>
<rect x="518.5" y="451.32" width="10.8" height="92.58" fill="#fff" stroke="#777" stroke-width="0.8"/>
<text x="508.7" y="555.2" font-size="8.0" font-weight="bold" text-anchor="middle"  stroke="#000" stroke-width="0.25">Man-1-P</text>
<line x1="564.1" y1="543.9" x2="564.1" y2="547.9" stroke="#000" stroke-width="1.6"/>
<path d="M564 536.03 L564 535.57 M561.2 535.57 L566.8 535.57" stroke="#444" stroke-width="0.8" fill="none"/>
<rect x="558.8" y="536.03" width="10.4" height="7.87" fill="#606060" stroke="#606060" stroke-width="0.8"/>
<path d="M579.3 543.34 L579.3 540.1 M576.4 540.1 L582.2 540.1" stroke="#444" stroke-width="0.8" fill="none"/>
<rect x="573.9" y="543.34" width="10.8" height="0.56" fill="#fff" stroke="#777" stroke-width="0.8"/>
<text x="564.1" y="555.2" font-size="8.0" font-weight="bold" text-anchor="middle"  stroke="#000" stroke-width="0.25">Glu-1-P</text>
<line x1="619.5" y1="543.9" x2="619.5" y2="547.9" stroke="#000" stroke-width="1.6"/>
<path d="M604.3 542.51 L604.3 542.14 M601.5 542.14 L607.1 542.14" stroke="#444" stroke-width="0.8" fill="none"/>
<rect x="599.1" y="542.51" width="10.4" height="1.39" fill="#000" stroke="#000" stroke-width="0.8"/>
<path d="M634.7 543.16 L634.7 538.53 M631.8 538.53 L637.6 538.53" stroke="#444" stroke-width="0.8" fill="none"/>
<rect x="629.3" y="543.16" width="10.8" height="0.74" fill="#fff" stroke="#777" stroke-width="0.8"/>
<text x="619.5" y="555.2" font-size="8.0" font-weight="bold" text-anchor="middle"  stroke="#000" stroke-width="0.25">Gal-1-P</text>
<text x="564" y="569.2" font-size="8.9" font-weight="bold" text-anchor="middle"  stroke="#000" stroke-width="0.25">Sugar Monophosphates</text>
<rect x="576.7" y="451.1" width="12.8" height="3.8" fill="#000" stroke="#000" stroke-width="0.9"/>
<text x="595.8" y="456.5" font-size="7.5" font-weight="normal" text-anchor="start" stroke="#000" stroke-width="0.12"><tspan font-style="italic">Ld</tspan>GDP-MP</text>
<rect x="576.7" y="464.2" width="12.8" height="3.8" fill="#606060" stroke="#606060" stroke-width="0.9"/>
<text x="595.8" y="469.6" font-size="7.5" font-weight="normal" text-anchor="start" stroke="#000" stroke-width="0.12"><tspan font-style="italic">Lm</tspan>GDP-MP</text>
<rect x="576.7" y="477.6" width="12.8" height="3.8" fill="#fff" stroke="#6a6a6a" stroke-width="0.9"/>
<text x="595.8" y="483" font-size="7.5" font-weight="normal" text-anchor="start" stroke="#000" stroke-width="0.12"><tspan font-style="italic">h</tspan>GDP-MP</text>
</svg>
</body></html>
